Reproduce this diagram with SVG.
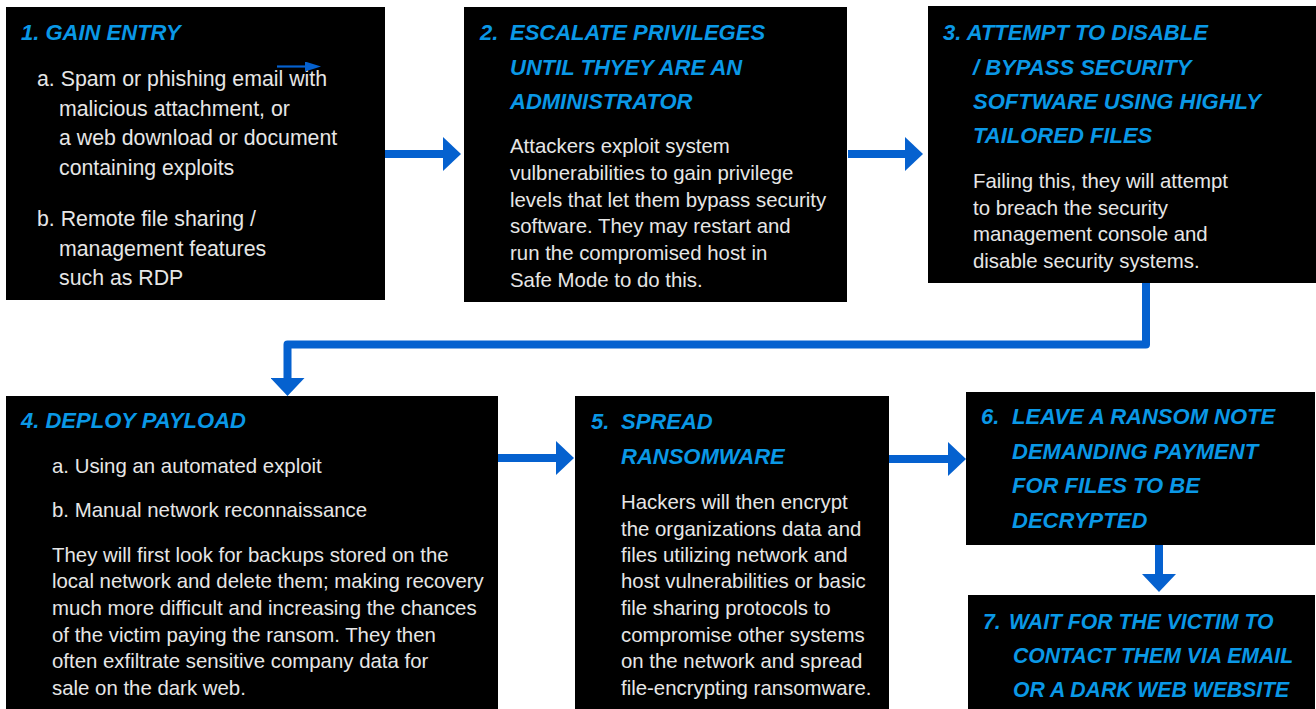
<svg xmlns="http://www.w3.org/2000/svg" width="1316" height="709" viewBox="0 0 1316 709">
<defs>
<style>
.box{fill:#000}
.h{font-family:"Liberation Sans",Arial,sans-serif;font-weight:bold;font-style:italic;font-size:22px;fill:#0a98e6}
.h7{font-size:21.2px}
.b{font-family:"Liberation Sans",Arial,sans-serif;font-size:20.4px;fill:#e6e6e6}
.b1{font-size:21.3px}
.conn{fill:none;stroke:#0561cf;stroke-width:8}
.thin{fill:none;stroke:#0561cf;stroke-width:2.2}
</style>
<marker id="ah" markerUnits="userSpaceOnUse" markerWidth="18" markerHeight="34" refX="0" refY="17" orient="auto">
<path d="M0,0 L18,17 L0,34 Z" fill="#0561cf"/>
</marker>
<marker id="ahs" markerUnits="userSpaceOnUse" markerWidth="16" markerHeight="10" refX="0" refY="5" orient="auto">
<path d="M0,0 L16,5 L0,10 Z" fill="#0561cf"/>
</marker>
</defs>
<rect width="1316" height="709" fill="#fff"/>

<g id="node1">
<rect class="box" x="6" y="7" width="379" height="293"/>
<text class="h" x="21" y="40">1. GAIN ENTRY</text>
<text class="b b1"><tspan x="37" y="86">a. Spam or phishing email with</tspan><tspan x="59" y="116">malicious attachment, or</tspan><tspan x="59" y="145">a web download or document</tspan><tspan x="59" y="175">containing exploits</tspan><tspan x="37" y="226">b. Remote file sharing /</tspan><tspan x="59" y="256">management features</tspan><tspan x="59" y="285">such as RDP</tspan></text>
</g>

<g id="node2">
<rect class="box" x="464" y="7" width="383" height="295"/>
<text class="h"><tspan x="480" y="40">2.</tspan><tspan x="510" y="40">ESCALATE PRIVILEGES</tspan><tspan x="510" y="75">UNTIL THYEY ARE AN</tspan><tspan x="510" y="109">ADMINISTRATOR</tspan></text>
<text class="b"><tspan x="510" y="153">Attackers exploit system</tspan><tspan x="510" y="180">vulbnerabilities to gain privilege</tspan><tspan x="510" y="207">levels that let them bypass security</tspan><tspan x="510" y="233">software. They may restart and</tspan><tspan x="510" y="260">run the compromised host in</tspan><tspan x="510" y="287">Safe Mode to do this.</tspan></text>
</g>

<g id="node3">
<rect class="box" x="928" y="6" width="388" height="277"/>
<text class="h"><tspan x="943" y="40">3. ATTEMPT TO DISABLE</tspan><tspan x="973" y="75">/ BYPASS SECURITY</tspan><tspan x="973" y="109">SOFTWARE USING HIGHLY</tspan><tspan x="973" y="143">TAILORED FILES</tspan></text>
<text class="b"><tspan x="973" y="188">Failing this, they will attempt</tspan><tspan x="973" y="215">to breach the security</tspan><tspan x="973" y="241">management console and</tspan><tspan x="973" y="268">disable security systems.</tspan></text>
</g>

<g id="node4">
<rect class="box" x="6" y="396" width="492" height="313"/>
<text class="h" x="21" y="428">4. DEPLOY PAYLOAD</text>
<text class="b"><tspan x="52" y="473">a. Using an automated exploit</tspan><tspan x="52" y="517">b. Manual network reconnaissance</tspan><tspan x="52" y="562">They will first look for backups stored on the</tspan><tspan x="52" y="588">local network and delete them; making recovery</tspan><tspan x="52" y="615">much more difficult and increasing the chances</tspan><tspan x="52" y="642">of the victim paying the ransom. They then</tspan><tspan x="52" y="668">often exfiltrate sensitive company data for</tspan><tspan x="52" y="695">sale on the dark web.</tspan></text>
</g>

<g id="node5">
<rect class="box" x="575" y="396" width="314" height="313"/>
<text class="h"><tspan x="591" y="429">5.</tspan><tspan x="621" y="429">SPREAD</tspan><tspan x="621" y="464">RANSOMWARE</tspan></text>
<text class="b"><tspan x="621" y="509">Hackers will then encrypt</tspan><tspan x="621" y="536">the organizations data and</tspan><tspan x="621" y="562">files utilizing network and</tspan><tspan x="621" y="588">host vulnerabilities or basic</tspan><tspan x="621" y="615">file sharing protocols to</tspan><tspan x="621" y="642">compromise other systems</tspan><tspan x="621" y="668">on the network and spread</tspan><tspan x="621" y="695">file-encrypting ransomware.</tspan></text>
</g>

<g id="node6">
<rect class="box" x="966" y="392" width="349" height="153"/>
<text class="h"><tspan x="981" y="424">6.</tspan><tspan x="1012" y="424">LEAVE A RANSOM NOTE</tspan><tspan x="1012" y="459">DEMANDING PAYMENT</tspan><tspan x="1012" y="493">FOR FILES TO BE</tspan><tspan x="1012" y="528">DECRYPTED</tspan></text>
</g>

<g id="node7">
<rect class="box" x="968" y="595" width="347" height="114"/>
<text class="h h7"><tspan x="983" y="629">7.</tspan><tspan x="1009" y="629">WAIT FOR THE VICTIM TO</tspan><tspan x="1013" y="663">CONTACT THEM VIA EMAIL</tspan><tspan x="1013" y="697">OR A DARK WEB WEBSITE</tspan></text>
</g>

<g id="connectors">
<path class="thin" d="M277,66.5 H305" marker-end="url(#ahs)"/>
<path class="conn" d="M385,154 H443" marker-end="url(#ah)"/>
<path class="conn" d="M848,154 H905" marker-end="url(#ah)"/>
<path class="conn" d="M1146,283 V344.5 H287.5 V378" stroke-linejoin="round" marker-end="url(#ah)"/>
<path class="conn" d="M498,458 H556" marker-end="url(#ah)"/>
<path class="conn" d="M889,459 H948" marker-end="url(#ah)"/>
<path class="conn" d="M1159,545 V574" marker-end="url(#ah)"/>
</g>
</svg>
